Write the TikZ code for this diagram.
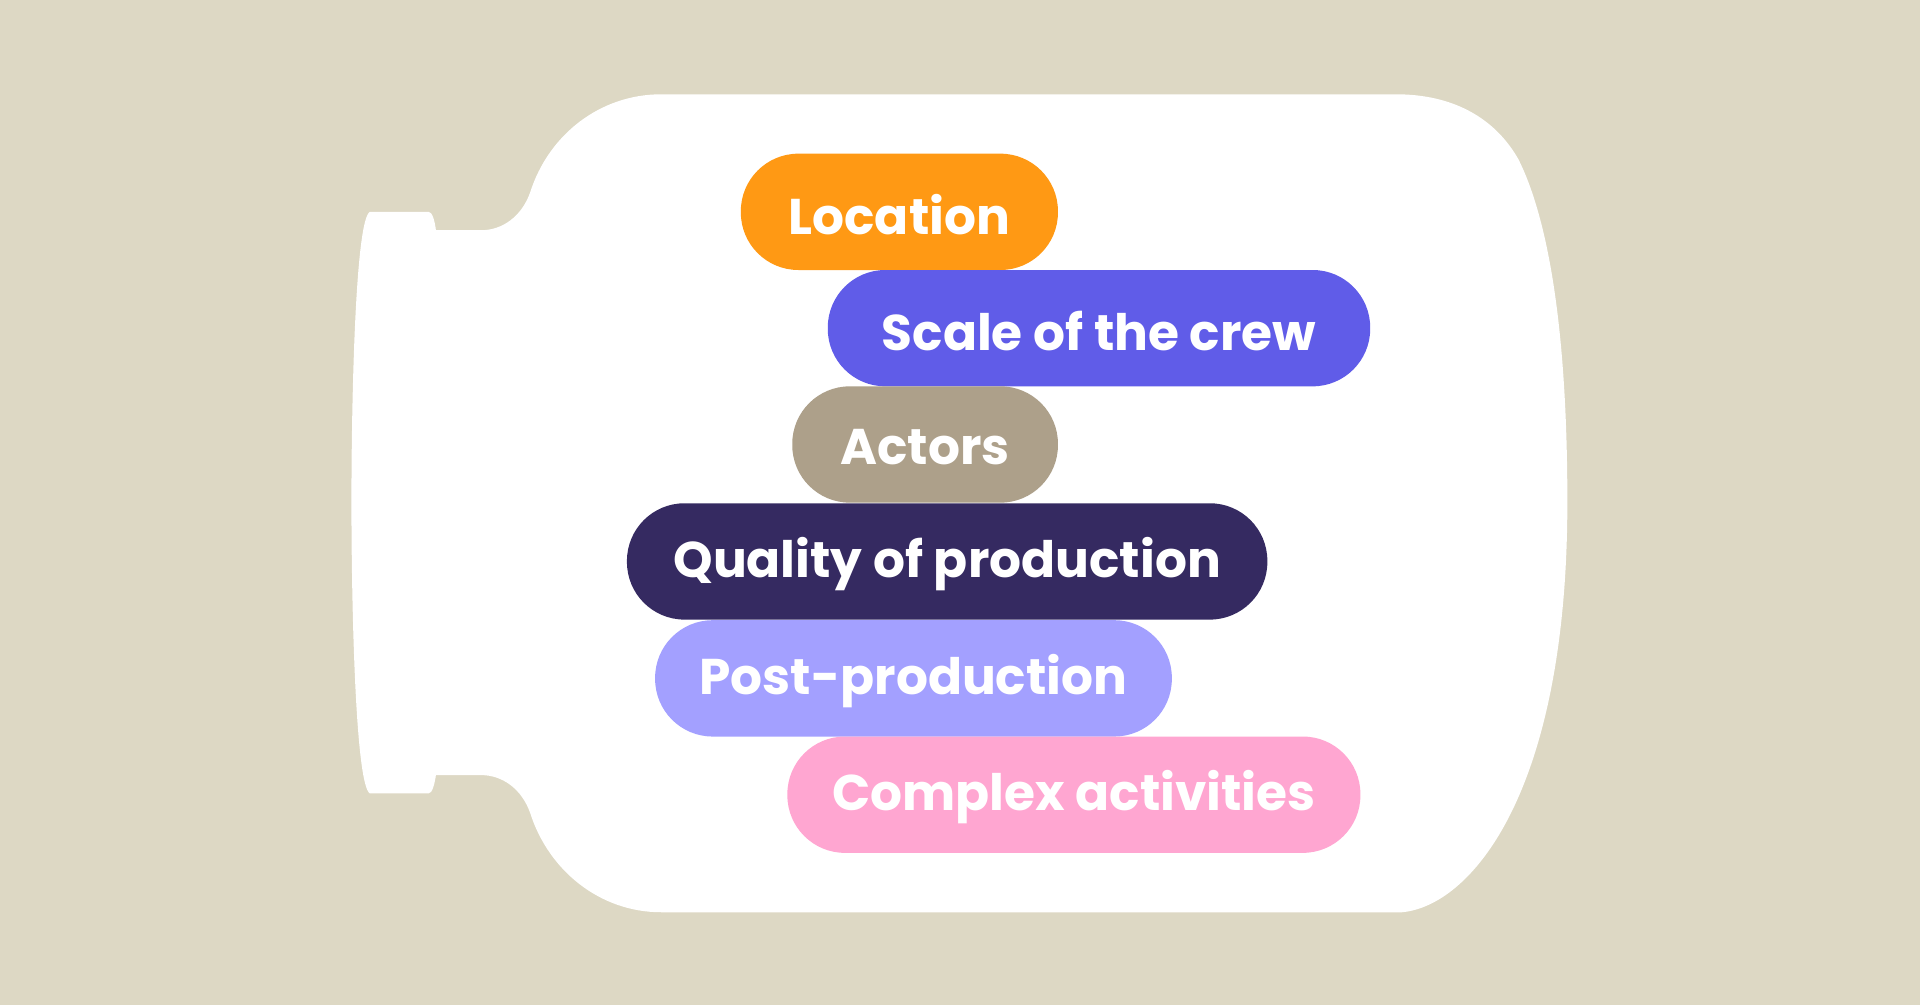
\documentclass[tikz,border=0pt]{standalone}
\usepackage{fontspec}
\setmainfont{Poppins}
\definecolor{bg}{HTML}{DDD8C4}
\definecolor{c1}{HTML}{FF9914}
\definecolor{c2}{HTML}{605CE8}
\definecolor{c3}{HTML}{ADA08A}
\definecolor{c4}{HTML}{352A61}
\definecolor{c5}{HTML}{A3A0FF}
\definecolor{c6}{HTML}{FFA6D1}
\tikzset{pill/.style={rectangle,rounded corners=47pt,minimum height=95pt,inner sep=0pt},
 lbl/.style={text=white,font=\fontsize{41}{44}\selectfont\bfseries,inner sep=0pt}}
\begin{document}
\begin{tikzpicture}[x=1pt,y=-1pt]
\fill[bg] (0,0) rectangle (1568,821);
\useasboundingbox (0,0) rectangle (1568,821);
\fill[white] (1140,77) -- (540,77) .. controls (490,77) and (448,110) .. (433,157) .. controls (426,177) and (410,188) .. (393,188) -- (356,188) .. controls (355,180) and (353,173) .. (350,173) -- (302,173) .. controls (290,180) and (287,330) .. (287,410) .. controls (287,490) and (290,640) .. (302,648) -- (350,648) .. controls (353,648) and (355,640) .. (356,633) -- (393,633) .. controls (410,633) and (426,644) .. (433,664) .. controls (448,711) and (490,745) .. (540,745) -- (1145,745) .. controls (1200,740) and (1280,650) .. (1280,410) .. controls (1280,250) and (1260,170) .. (1240,130) .. controls (1220,95) and (1185,77) .. (1140,77) -- cycle;
\node[pill,fill=c1,minimum width=259pt] (loc) at (734.5,173) {};
\node[pill,fill=c2,minimum width=443pt] (scale) at (897.5,268) {};
\node[pill,fill=c3,minimum width=217pt] (act) at (755.5,363) {};
\node[pill,fill=c4,minimum width=523pt] (qual) at (773.5,458.5) {};
\node[pill,fill=c5,minimum width=422pt] (post) at (746,554) {};
\node[pill,fill=c6,minimum width=468pt] (comp) at (877,649) {};
\node[lbl] (tloc) at ([yshift=-2pt]loc.center) {Location};
\node[lbl] (tscale) at ([yshift=-2pt]scale.center) {Scale of the crew};
\node[lbl] (tact) at ([yshift=-2pt]act.center) {Actors};
\node[lbl] (tqual) at ([yshift=-2pt]qual.center) {Quality of production};
\node[lbl] (tpost) at ([yshift=-2pt]post.center) {Post-production};
\node[lbl] (tcomp) at ([yshift=-2pt]comp.center) {Complex activities};
\end{tikzpicture}
\end{document}
